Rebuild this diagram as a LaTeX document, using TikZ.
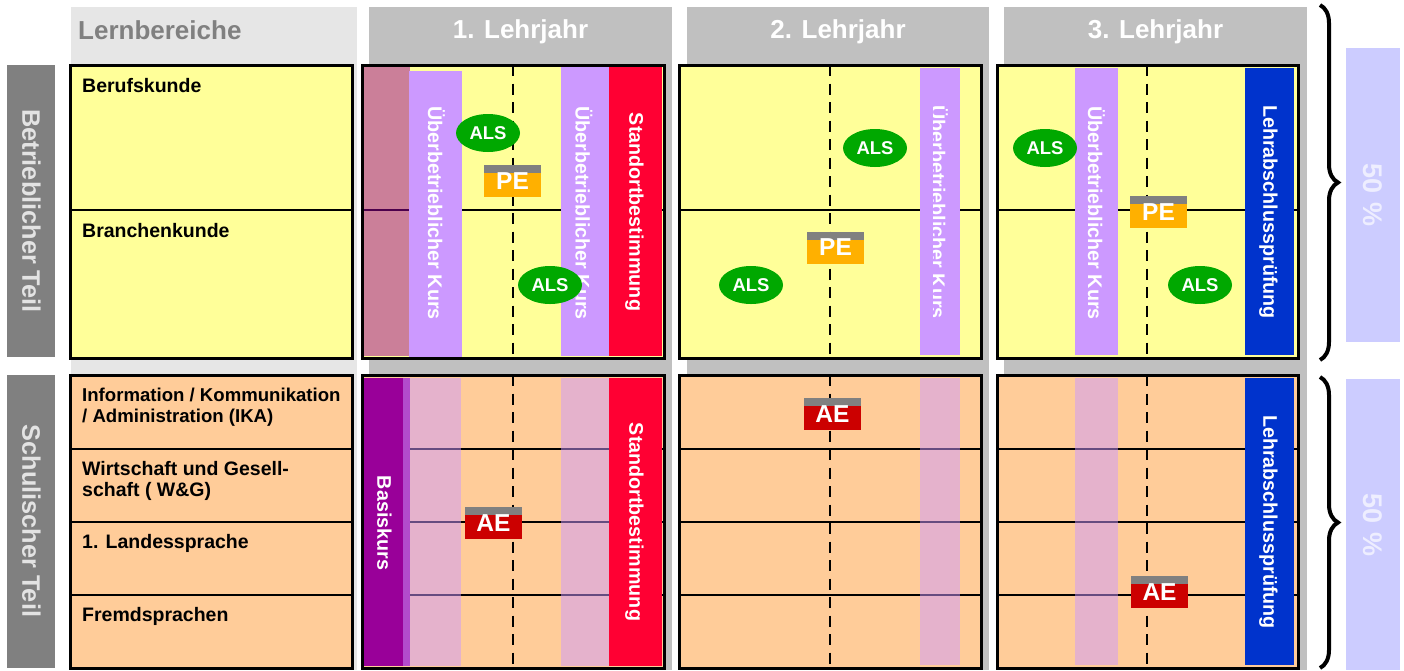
\documentclass[tikz,border=0pt]{standalone}
\usepackage{fontspec}
\setmainfont{Liberation Sans}
\usetikzlibrary{shapes.geometric,decorations.pathreplacing}
\definecolor{panelyellow}{HTML}{FFFF99}
\definecolor{panelpeach}{HTML}{FFCC99}
\definecolor{headgray}{HTML}{C0C0C0}
\definecolor{lbgray}{HTML}{E6E6E6}
\definecolor{midgray}{HTML}{808080}
\definecolor{lilac}{HTML}{CC99FF}
\definecolor{stdred}{HTML}{FF0033}
\definecolor{lapblue}{HTML}{0033CC}
\definecolor{basispurple}{HTML}{990099}
\definecolor{alsgreen}{HTML}{00A800}
\definecolor{peorange}{HTML}{FFB000}
\definecolor{aered}{HTML}{CC0000}
\definecolor{pctbox}{HTML}{CCCCFF}
\definecolor{pcttext}{HTML}{EEEEFF}
\definecolor{sidetext}{HTML}{E3E3E3}
\tikzset{
  panelborder/.style={draw=black, line width=3pt},
  rowline/.style={draw=black, line width=2.8pt},
  dashline/.style={draw=black, line width=2.8pt, dash pattern=on 11pt off 7.5pt},
  vlab/.style={rotate=-90, text=white, inner sep=0pt, font=\fontsize{19.7}{22}\selectfont\bfseries},
  headlab/.style={anchor=base, text=white, inner sep=0pt, font=\fontsize{26}{28}\selectfont\bfseries},
  sidelab/.style={rotate=-90, text=sidetext, inner sep=0pt, font=\fontsize{25.3}{27}\selectfont\bfseries},
  rowlab/.style={anchor=base west, inner sep=0pt, font=\fontsize{19.5}{22}\selectfont\bfseries},
  rowlabsmall/.style={anchor=base west, inner sep=0pt, font=\fontsize{18.6}{21}\selectfont\bfseries},
  als/.style={ellipse, fill=alsgreen, minimum width=64pt, minimum height=38pt, inner sep=0pt,
    text=white, font=\fontsize{18.5}{20}\selectfont\bfseries},
  exbox/.style={rectangle, minimum width=57pt, minimum height=32pt, inner sep=0pt,
    text=white, font=\fontsize{24.5}{26}\selectfont\bfseries,
    path picture={\fill[midgray] (path picture bounding box.north west) rectangle ([yshift=-8pt]path picture bounding box.north east);}},
  pebox/.style={exbox, fill=peorange},
  aebox/.style={exbox, fill=aered},
  pctlab/.style={rotate=-90, text=pcttext, inner sep=0pt, font=\fontsize{27}{29}\selectfont\bfseries},
  bracestyle/.style={draw=black, line width=4pt, decorate, decoration={brace, amplitude=18pt}},
}
\begin{document}
\begin{tikzpicture}[x=1pt,y=-1pt]
\useasboundingbox (0,0) rectangle (1404,670);
\fill[white] (0,0) rectangle (1404,670);

% column backgrounds
\fill[lbgray] (71,7) rectangle (357,670);
\fill[headgray] (369,7) rectangle (672,670);
\fill[headgray] (687,7) rectangle (989,670);
\fill[headgray] (1004,7) rectangle (1307,670);

\node[anchor=base west, inner sep=0pt, text=midgray, font=\fontsize{26}{28}\selectfont\bfseries] (lernb) at (78,39) {Lernbereiche};
\node[headlab] (lj1) at (520.5,38) {1. Lehrjahr};
\node[headlab] (lj2) at (838,38) {2. Lehrjahr};
\node[headlab] (lj3) at (1155.5,38) {3. Lehrjahr};

% side labels
\fill[midgray] (7,65) rectangle (55,357);
\fill[midgray] (7,375) rectangle (55,668);
\node[sidelab] (betr) at (31.5,211) {Betrieblicher Teil};
\node[sidelab] (schul) at (31.5,521) {Schulischer Teil};

% panel fills and row lines
\foreach \xa/\xb in {70/352, 362/664, 679/981, 997/1298} {
  \fill[panelyellow] (\xa,65) rectangle (\xb,358);
  \draw[rowline] (\xa,210) -- (\xb,210);
  \fill[panelpeach] (\xa,375) rectangle (\xb,668);
  \foreach \yy in {449,522,595} \draw[rowline] (\xa,\yy) -- (\xb,\yy);
}

% year 1 columns
\fill[basispurple, fill opacity=0.5] (364,67) rectangle (410,356);
\fill[lilac] (409,71) rectangle (462,357);
\fill[lilac] (561,67) rectangle (609,356);
\fill[stdred] (609,67) rectangle (662,356);
\fill[basispurple] (364,378) rectangle (410,666);
\fill[lilac, fill opacity=0.5] (403,378) rectangle (461,666);
\fill[lilac, fill opacity=0.5] (561,378) rectangle (609,666);
\fill[stdred] (609,378) rectangle (662,666);
% year 2 columns
\fill[lilac] (920,68) rectangle (960,355);
\fill[lilac, fill opacity=0.5] (920,378) rectangle (960,665);
% year 3 columns
\fill[lilac] (1075,68) rectangle (1118,355);
\fill[lapblue] (1245,68) rectangle (1294,355);
\fill[lilac, fill opacity=0.5] (1075,378) rectangle (1118,665);
\fill[lapblue] (1245,378) rectangle (1294,665);

% dashed year-half lines
\foreach \xx in {513,830,1147} {
  \draw[dashline] (\xx,65) -- (\xx,358);
  \draw[dashline] (\xx,375) -- (\xx,668);
}

% panel borders
\foreach \xa/\xb in {70/352, 362/664, 679/981, 997/1298} {
  \draw[panelborder] (\xa,65) rectangle (\xb,358);
  \draw[panelborder] (\xa,375) rectangle (\xb,668);
}

% row labels
\node[rowlab] (beruf) at (82,92) {Berufskunde};
\node[rowlab] (branche) at (82,237) {Branchenkunde};
\node[rowlabsmall] (ikaa) at (82,401) {Information / Kommunikation};
\node[rowlabsmall] (ikab) at (82,422) {/ Administration (IKA)};
\node[rowlab] (wga) at (82,475) {Wirtschaft und Gesell-};
\node[rowlab] (wgb) at (82,496) {schaft ( W\&G)};
\node[rowlab] (lands) at (82,548) {1. Landessprache};
\node[rowlab] (fremd) at (82,621) {Fremdsprachen};

% vertical labels
\node[vlab] (ueb1) at (436.5,213) {Überbetrieblicher Kurs};
\node[vlab] (ueb2) at (584,213) {Überbetrieblicher Kurs};
\node[vlab] (std1) at (634.5,212) {Standortbestimmung};
\node[vlab] (std2) at (634.5,522) {Standortbestimmung};
\node[vlab] (basis) at (384.5,523) {Basiskurs};
\begin{scope}
  \clip (933,68) rectangle (960,355);
  \node[vlab, anchor=base] (ueb3) at (931,212) {Überbetrieblicher Kurs};
\end{scope}
\node[vlab] (ueb4) at (1096.5,213) {Überbetrieblicher Kurs};
\node[vlab] (lap1) at (1268.5,212) {Lehrabschlussprüfung};
\node[vlab] (lap2) at (1268.5,522) {Lehrabschlussprüfung};

% ALS ellipses
\node[als] (als1) at (488,133) {ALS};
\node[als] (als2) at (550,285) {ALS};
\node[als] (als3) at (875,148) {ALS};
\node[als] (als4) at (751,285) {ALS};
\node[als] (als5) at (1045,148) {ALS};
\node[als] (als6) at (1200,285) {ALS};

% PE / AE boxes
\node[pebox] (pe1) at (512.5,181) {PE};
\node[pebox] (pe2) at (835.5,247.5) {PE};
\node[pebox] (pe3) at (1158.5,212) {PE};
\node[aebox] (ae1) at (493.5,523) {AE};
\node[aebox] (ae2) at (832.5,414) {AE};
\node[aebox] (ae3) at (1159.5,592) {AE};

% braces and percentages
\coordinate (bra1) at (1320,5);
\coordinate (bra2) at (1320,360);
\coordinate (brb1) at (1320,377);
\coordinate (brb2) at (1320,668);
\draw[bracestyle] (bra1) -- (bra2);
\draw[bracestyle] (brb1) -- (brb2);
\fill[pctbox] (1346,48) rectangle (1400,342);
\fill[pctbox] (1346,379) rectangle (1400,670);
\node[pctlab] (pcta) at (1373,195) {50\hspace{9pt}\%};
\node[pctlab] (pctb) at (1373,525) {50\hspace{9pt}\%};
\end{tikzpicture}
\end{document}
